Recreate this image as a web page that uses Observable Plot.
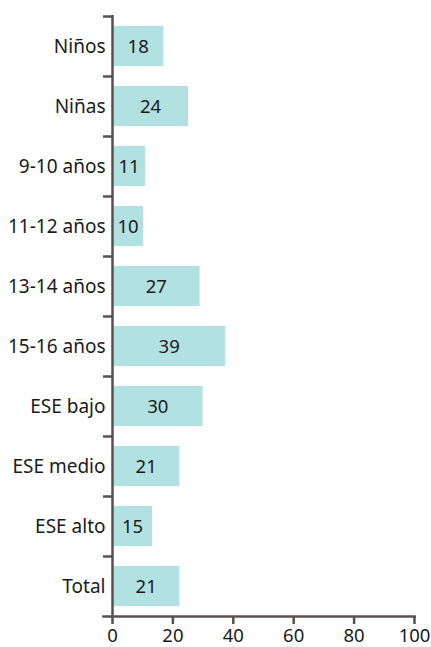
<!DOCTYPE html>
<html><head><meta charset="utf-8">
<script src="https://cdn.jsdelivr.net/npm/d3@7"></script>
<script src="https://cdn.jsdelivr.net/npm/@observablehq/plot@0.6"></script>
<style>body{margin:0;background:#fff}</style>
</head><body><div id="chart"></div>
<script>
const categories = ["Niños","Niñas","9-10 años","11-12 años","13-14 años","15-16 años","ESE bajo","ESE medio","ESE alto","Total"];
const barValues = [17, 25.2, 11, 10.3, 29, 37.5, 30, 22.3, 13.3, 22.3];
const labels = ["18","24","11","10","27","39","30","21","15","21"];
const xTicks = [0, 20, 40, 60, 80, 100];

const data = categories.map((c, i) => ({category: c, value: barValues[i], label: labels[i]}));
const axisColor = "#595151";
const textColor = "#1a1a1a";
const font = "'Noto Sans', sans-serif";

const plot = Plot.plot({
  width: 431, height: 647,
  marginTop: 15, marginBottom: 31, marginLeft: 112, marginRight: 17,
  style: {fontFamily: font, fontSize: "18px", color: textColor, background: "#fff"},
  x: {domain: [0, 100]},
  y: {domain: categories, padding: 0},
  marks: [
    Plot.barX(data, {y: "category", x: "value", fill: "#b2e1e2", insetTop: 10, insetBottom: 10}),
    Plot.text(data, {y: "category", x: d => d.value / 2, text: "label", fontSize: 18.5, fill: textColor, dy: 1}),
    Plot.ruleX([0], {stroke: axisColor, strokeWidth: 2.5}),
    Plot.axisY({tickSize: 0, tickPadding: 7, label: null, fontSize: 19, fill: textColor}),
    Plot.axisY({tickSize: 9, tickFormat: () => "", label: null, dy: -30, stroke: axisColor, strokeWidth: 2.5, strokeOpacity: 1}),
    Plot.frame({anchor: "bottom", stroke: axisColor, strokeWidth: 2.5, insetLeft: -9}),
    Plot.axisX(xTicks, {tickSize: 8, tickPadding: 4, label: null, stroke: axisColor, strokeWidth: 2.5, strokeOpacity: 1, fontSize: 18.5, fill: textColor})
  ]
});
document.getElementById("chart").appendChild(plot);
</script>
</body></html>
